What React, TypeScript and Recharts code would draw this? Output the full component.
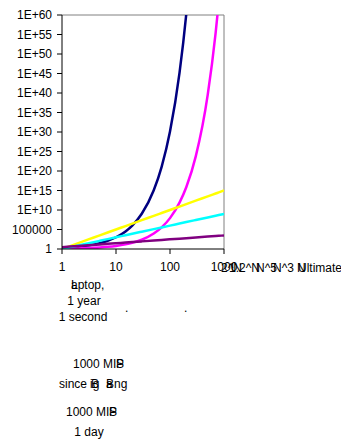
import React from 'react';
import { LineChart, Line, XAxis, YAxis, ReferenceLine } from 'recharts';

// problem size N (log x axis)
const sizes = [1, 2, 3, 5, 7, 10, 15, 20, 30, 50, 70, 100, 150, 200, 300, 500, 700, 800, 1000];

const pow2 = [2, 4, 8, 32, 128, 1024, 32768, 1048576, 1.07e9, 1.13e15, 1.18e21, 1.27e30, 1.43e45, 1.61e60, 2.04e90, 3.27e150, 5.26e210, 6.67e240, 1.07e301];
const pow12 = [1.2, 1.44, 1.73, 2.49, 3.58, 6.19, 15.4, 38.3, 237, 9100, 3.49e5, 8.28e7, 7.54e11, 6.85e15, 5.68e23, 3.9e39, 2.7e55, 2.2e63, 1.5e79];
const n5 = [1, 32, 243, 3125, 16807, 1e5, 759375, 3.2e6, 2.43e7, 3.125e8, 1.68e9, 1e10, 7.59e10, 3.2e11, 2.43e12, 3.125e13, 1.68e14, 3.28e14, 1e15];
const n3 = [1, 8, 27, 125, 343, 1000, 3375, 8000, 27000, 125000, 343000, 1e6, 3.375e6, 8e6, 2.7e7, 1.25e8, 3.43e8, 5.12e8, 1e9];
const lin = [3, 6, 9, 15, 21, 30, 45, 60, 90, 150, 210, 300, 450, 600, 900, 1500, 2100, 2400, 3000];

const xTicks = [1, 10, 100, 1000];
const yTicks = [1, 1e5, 1e10, 1e15, 1e20, 1e25, 1e30, 1e35, 1e40, 1e45, 1e50, 1e55, 1e60];
const yTickLabels = ['1', '100000', '1E+10', '1E+15', '1E+20', '1E+25', '1E+30', '1E+35', '1E+40', '1E+45', '1E+50', '1E+55', '1E+60'];

const data = sizes.map((n, i) => ({
    n,
    pow2: pow2[i],
    pow12: pow12[i],
    n5: n5[i],
    n3: n3[i],
    lin: lin[i],
}));

const font = '"Liberation Sans", Arial, sans-serif';
const tickStyle = { fill: '#000', fontSize: 12, fontFamily: font };

export default function App() {
    return (
        <div style={{ position: 'absolute', left: 0, top: 0, width: 341, height: 443, background: '#fff' }}>
            <LineChart
                width={341}
                height={443}
                data={data}
                margin={{ top: 15, right: 117, left: 0, bottom: 164 }}
            >
                <XAxis
                    dataKey="n"
                    type="number"
                    scale="log"
                    domain={[1, 1000]}
                    ticks={xTicks}
                    interval={0}
                    height={30}
                    tick={tickStyle}
                    tickSize={5}
                    tickMargin={8}
                    stroke="#000"
                    allowDataOverflow
                />
                <YAxis
                    type="number"
                    scale="log"
                    domain={[1, 1e60]}
                    ticks={yTicks}
                    interval={0}
                    width={62}
                    tick={tickStyle}
                    tickSize={5}
                    tickMargin={5}
                    stroke="#000"
                    tickFormatter={(v: number) => yTickLabels[yTicks.indexOf(v)] ?? String(v)}
                    allowDataOverflow
                />
                <ReferenceLine y={1e60} stroke="#808080" />
                <ReferenceLine x={1000} stroke="#808080" />
                <Line dataKey="pow2" type="monotone" stroke="#000080" strokeWidth={2.5} dot={false} isAnimationActive={false} />
                <Line dataKey="pow12" type="monotone" stroke="#FF00FF" strokeWidth={2.5} dot={false} isAnimationActive={false} />
                <Line dataKey="n5" type="monotone" stroke="#FFFF00" strokeWidth={2.5} dot={false} isAnimationActive={false} />
                <Line dataKey="n3" type="monotone" stroke="#00FFFF" strokeWidth={2.5} dot={false} isAnimationActive={false} />
                <Line dataKey="lin" type="monotone" stroke="#800080" strokeWidth={2.5} dot={false} isAnimationActive={false} />
            </LineChart>

            {/* legend and labels, overlapping as in the original */}
            <svg width={341} height={443} style={{ position: 'absolute', left: 0, top: 0, pointerEvents: 'none' }}>
                <g fontFamily={font} fontSize={12} fill="#000">
                    <text x={221} y={272}>2^N</text>
                    <text x={229} y={272}>1.2^N</text>
                    <text x={256} y={272}>N^5</text>
                    <text x={273} y={272}>N^3</text>
                    <text x={297} y={272}>N</text>
                    <text x={298} y={272}>Ultimate</text>

                    <text x={71} y={289}>L</text>
                    <text x={71} y={289}>aptop,</text>
                    <text x={84} y={305} textAnchor="middle">1 year</text>
                    <text x={83} y={321} textAnchor="middle">1 second</text>
                    <text x={125} y={312}>.</text>
                    <text x={184} y={312}>.</text>

                    <text x={73} y={368}>1000 MI</text>
                    <text x={116} y={368}>P</text>
                    <text x={116} y={368}>S</text>
                    <text x={59} y={388}>since </text>
                    <text x={91} y={388}>B</text>
                    <text x={90} y={388}>ig</text>
                    <text x={106} y={388}>B</text>
                    <text x={106} y={388}>a</text>
                    <text x={114} y={388}>ng</text>

                    <text x={66} y={416}>1000 MI</text>
                    <text x={109} y={416}>P</text>
                    <text x={109} y={416}>S</text>
                    <text x={89} y={436} textAnchor="middle">1 day</text>
                </g>
            </svg>
        </div>
    );
}
